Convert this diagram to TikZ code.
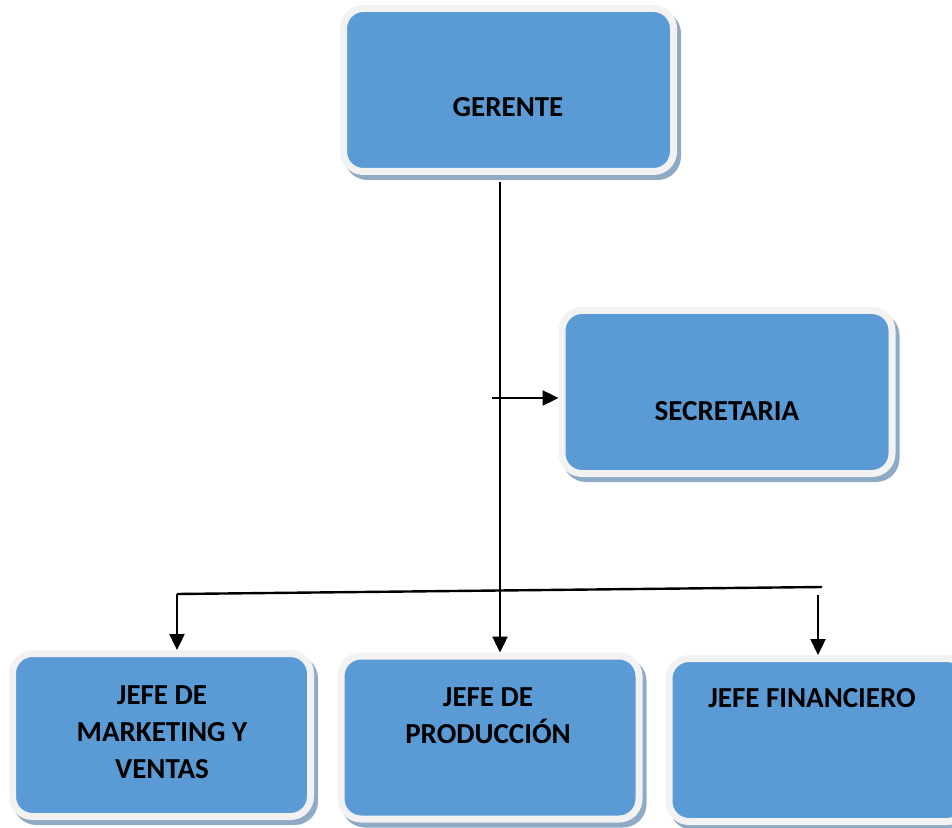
\documentclass[tikz,border=0pt]{standalone}
\usepackage{fontspec}
\setmainfont{Carlito}
\usepackage{tikz}
\usetikzlibrary{arrows.meta,positioning,calc}
\definecolor{boxblue}{RGB}{91,155,213}
\definecolor{boxrim}{RGB}{242,242,242}
\definecolor{boxshade}{RGB}{143,170,196}
\tikzset{
  orgbox/.style={draw=boxrim, fill=boxblue, line width=3.5pt,
                 rounded corners=10pt, minimum width=#1,
                 minimum height=81.5pt, inner sep=0pt,
                 preaction={draw=boxshade, fill=boxshade, line width=3.5pt,
                            transform canvas={shift={(2pt,-2.5pt)}}}},
  orgbox/.default=149pt,
  boxtext/.style={font=\bfseries\fontsize{14.5pt}{18.5pt}\selectfont,
                  align=center, inner sep=0pt},
  arr/.style={-{Triangle[length=8pt,width=7.5pt]}, line width=1.2pt},
  bar/.style={line width=1.2pt},
}

\begin{document}
\begin{tikzpicture}[x=0.5pt,y=-0.5pt]
  \useasboundingbox (0,0) rectangle (952,828);
  % boxes
  \node[orgbox=165pt] (gerente) at (508.5,90) {};
  \node[orgbox=165pt] (secretaria) at (727,392) {};
  \node[orgbox] (marketing) at (161.5,735) {};
  \node[orgbox] (produccion) at (490,737.5) {};
  \node[orgbox] (financiero) at (818,740) {};
  % texts
  \node[boxtext] (t-gerente) at (508,107) {GERENTE};
  \node[boxtext] (t-secretaria) at (727,411) {SECRETARIA};
  \node[boxtext] (t-marketing) at (162,732.5) {JEFE DE\\MARKETING Y\\VENTAS};
  \node[boxtext] (t-produccion) at (488,716) {JEFE DE\\PRODUCCIÓN};
  \node[boxtext] (t-financiero) at (812,698) {JEFE FINANCIERO};
  % connectors
  \coordinate (trunk) at (500,0);
  \coordinate (sec-start) at (492,398);
  \coordinate (bar-left) at (177,594);
  \coordinate (bar-right) at (822,587);
  \coordinate (fin-start) at (818,595);
  \draw[arr, shorten <=3.5pt] (gerente.south -| trunk) -- (produccion.north -| trunk);
  \draw[arr] (sec-start) -- (sec-start -| secretaria.west);
  \draw[bar] (bar-left) -- (bar-right);
  \draw[arr] (bar-left) -- (bar-left |- marketing.north);
  \draw[arr] (fin-start) -- (fin-start |- financiero.north);
\end{tikzpicture}
\end{document}
